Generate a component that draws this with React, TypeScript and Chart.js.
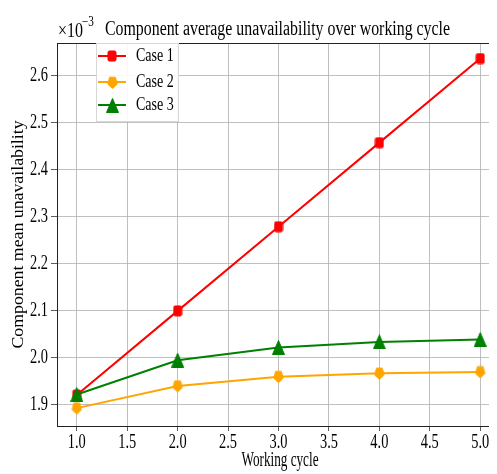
import React, { useEffect, useRef } from "react";
import { Chart, registerables } from "chart.js";

Chart.register(...registerables);

const cycles = [1, 2, 3, 4, 5];
const case1 = [1.921, 2.1, 2.279, 2.458, 2.637];
const case2 = [1.893, 1.94, 1.96, 1.967, 1.97];
const case3 = [1.922, 1.995, 2.022, 2.034, 2.039];
const xTicks = [1.0, 1.5, 2.0, 2.5, 3.0, 3.5, 4.0, 4.5, 5.0];
const yTicks = [1.9, 2.0, 2.1, 2.2, 2.3, 2.4, 2.5, 2.6];
const seriesNames = ["Case 1", "Case 2", "Case 3"];
const seriesColors = ["#ff0000", "#ffa500", "#008000"];
const titleText = "Component average unavailability over working cycle";
const xTitle = "Working cycle";
const yTitle = "Component mean unavailability";

const FONT = "'Liberation Serif', 'DejaVu Serif', serif";

function makeMarker(kind: string, color: string): HTMLCanvasElement {
  const c = document.createElement("canvas");
  let w = 10, h = 12;
  if (kind === "tri") { w = 13; h = 15; }
  if (kind === "pent") { w = 11; h = 13; }
  c.width = w;
  c.height = h;
  const g = c.getContext("2d")!;
  g.fillStyle = color;
  g.strokeStyle = color;
  g.lineJoin = "round";
  g.lineWidth = 1;
  g.beginPath();
  if (kind === "sq") {
    const r = 1.5;
    g.moveTo(1 + r, 1);
    g.arcTo(w - 1, 1, w - 1, h - 1, r);
    g.arcTo(w - 1, h - 1, 1, h - 1, r);
    g.arcTo(1, h - 1, 1, 1, r);
    g.arcTo(1, 1, w - 1, 1, r);
  } else if (kind === "pent") {
    const cx = w / 2, cy = h / 2 - 0.3, rx = w / 2 - 0.6, ry = h / 2 - 0.6;
    for (let i = 0; i < 5; i++) {
      const a = Math.PI / 2 + (i * 2 * Math.PI) / 5;
      const x = cx + rx * Math.cos(a);
      const y = cy + ry * Math.sin(a) * 1.05;
      if (i === 0) g.moveTo(x, y);
      else g.lineTo(x, y);
    }
  } else {
    g.moveTo(w / 2, 0.5);
    g.lineTo(w - 0.5, h - 0.5);
    g.lineTo(0.5, h - 0.5);
  }
  g.closePath();
  g.fill();
  g.stroke();
  return c;
}

function txt(ctx: CanvasRenderingContext2D, s: string, x: number, y: number, size: number, sx: number, align: CanvasTextAlign, base: CanvasTextBaseline) {
  ctx.save();
  ctx.translate(x, y);
  ctx.scale(sx, 1);
  ctx.font = `${size}px ${FONT}`;
  ctx.textAlign = align;
  ctx.textBaseline = base;
  ctx.fillText(s, 0, 0);
  ctx.restore();
}

export default function App() {
  const ref = useRef<HTMLCanvasElement | null>(null);
  useEffect(() => {
    if (!ref.current) return;
    const markers = [
      makeMarker("sq", seriesColors[0]),
      makeMarker("pent", seriesColors[1]),
      makeMarker("tri", seriesColors[2]),
    ];
    const datas = [case1, case2, case3];
    const overlay = {
      id: "overlay",
      afterDraw(chart: any) {
        const ctx = chart.ctx as CanvasRenderingContext2D;
        const a = chart.chartArea;
        const xs = chart.scales.x;
        const ys = chart.scales.y;
        ctx.save();
        // top spine
        ctx.strokeStyle = "#222";
        ctx.lineWidth = 1;
        ctx.beginPath();
        ctx.moveTo(a.left, a.top + 0.5);
        ctx.lineTo(a.right, a.top + 0.5);
        ctx.stroke();
        ctx.fillStyle = "#000";
        // tick labels
        for (const v of xTicks) {
          txt(ctx, v.toFixed(1), xs.getPixelForValue(v), a.bottom + 17, 20, 0.72, "center", "middle");
        }
        for (const v of yTicks) {
          txt(ctx, v.toFixed(1), 40, ys.getPixelForValue(v), 20, 0.72, "right", "middle");
        }
        // title
        txt(ctx, titleText, (a.left + a.right) / 2 - 1, 27, 21.6, 0.735, "center", "alphabetic");
        // x title
        txt(ctx, xTitle, 272, 458, 20, 0.66, "center", "alphabetic");
        // y title (rotated; glyph height compressed horizontally)
        ctx.save();
        ctx.translate(11, (a.top + a.bottom) / 2);
        ctx.rotate(-Math.PI / 2);
        ctx.scale(1, 0.9);
        ctx.font = `17.8px ${FONT}`;
        ctx.textAlign = "center";
        ctx.textBaseline = "middle";
        ctx.fillText(yTitle, 0, 0);
        ctx.restore();
        // offset text
        txt(ctx, "\u00d710", 50, 29, 20, 0.8, "left", "alphabetic");
        txt(ctx, "\u22123", 74, 18, 14, 0.8, "left", "alphabetic");
        // legend
        const lx = a.left + 39, ly = a.top, lw = 83, lh = 79;
        ctx.fillStyle = "rgba(255,255,255,0.9)";
        ctx.fillRect(lx, ly, lw, lh);
        ctx.strokeStyle = "#d8d8d8";
        ctx.lineWidth = 1;
        ctx.strokeRect(lx + 0.5, ly + 0.5, lw - 1, lh - 1);
        const rows = [13, 39, 62];
        for (let i = 0; i < 3; i++) {
          const y = ly + rows[i];
          ctx.strokeStyle = seriesColors[i];
          ctx.lineWidth = 2;
          ctx.beginPath();
          ctx.moveTo(lx + 2, y);
          ctx.lineTo(lx + 30, y);
          ctx.stroke();
          const m = markers[i];
          ctx.drawImage(m, Math.round(lx + 16 - m.width / 2), Math.round(y - m.height / 2));
          ctx.fillStyle = "#000";
          txt(ctx, seriesNames[i], lx + 40, y, 19.5, 0.72, "left", "middle");
        }
        ctx.restore();
      },
    };
    const chart = new Chart(ref.current, {
      type: "line",
      data: {
        datasets: datas.map((d, i) => ({
          label: seriesNames[i],
          data: cycles.map((x, j) => ({ x, y: d[j] })),
          borderColor: seriesColors[i],
          backgroundColor: seriesColors[i],
          borderWidth: 2,
          pointStyle: markers[i] as any,
          pointRadius: 6,
          tension: 0,
          order: 2 - i,
        })),
      },
      options: {
        animation: false,
        responsive: false,
        layout: { padding: { top: 35, left: 0, right: 3, bottom: 0 } },
        plugins: { legend: { display: false }, tooltip: { enabled: false }, title: { display: false } },
        scales: {
          x: {
            type: "linear",
            min: 0.804,
            max: 5.196,
            afterBuildTicks: (s: any) => { s.ticks = xTicks.map((v) => ({ value: v })); },
            afterFit: (s: any) => { s.height = 48; },
            ticks: { display: false },
            grid: { color: "#b0b0b0", lineWidth: 0.8, tickLength: 5, tickColor: "#333" },
            border: { display: true, color: "#222", width: 1 },
          },
          y: {
            type: "linear",
            min: 1.855,
            max: 2.67,
            afterBuildTicks: (s: any) => { s.ticks = yTicks.map((v) => ({ value: v })); },
            afterFit: (s: any) => { s.width = 49; },
            ticks: { display: false },
            grid: { color: "#b0b0b0", lineWidth: 0.8, tickLength: 6, tickColor: "#333" },
            border: { display: true, color: "#222", width: 1 },
          },
        },
      },
      plugins: [overlay],
    });
    return () => chart.destroy();
  }, []);
  return (
    <div style={{ width: 489, height: 466, overflow: "hidden", position: "relative" }}>
      <canvas ref={ref} width={500} height={466} style={{ width: 500, height: 466, display: "block" }} />
    </div>
  );
}
